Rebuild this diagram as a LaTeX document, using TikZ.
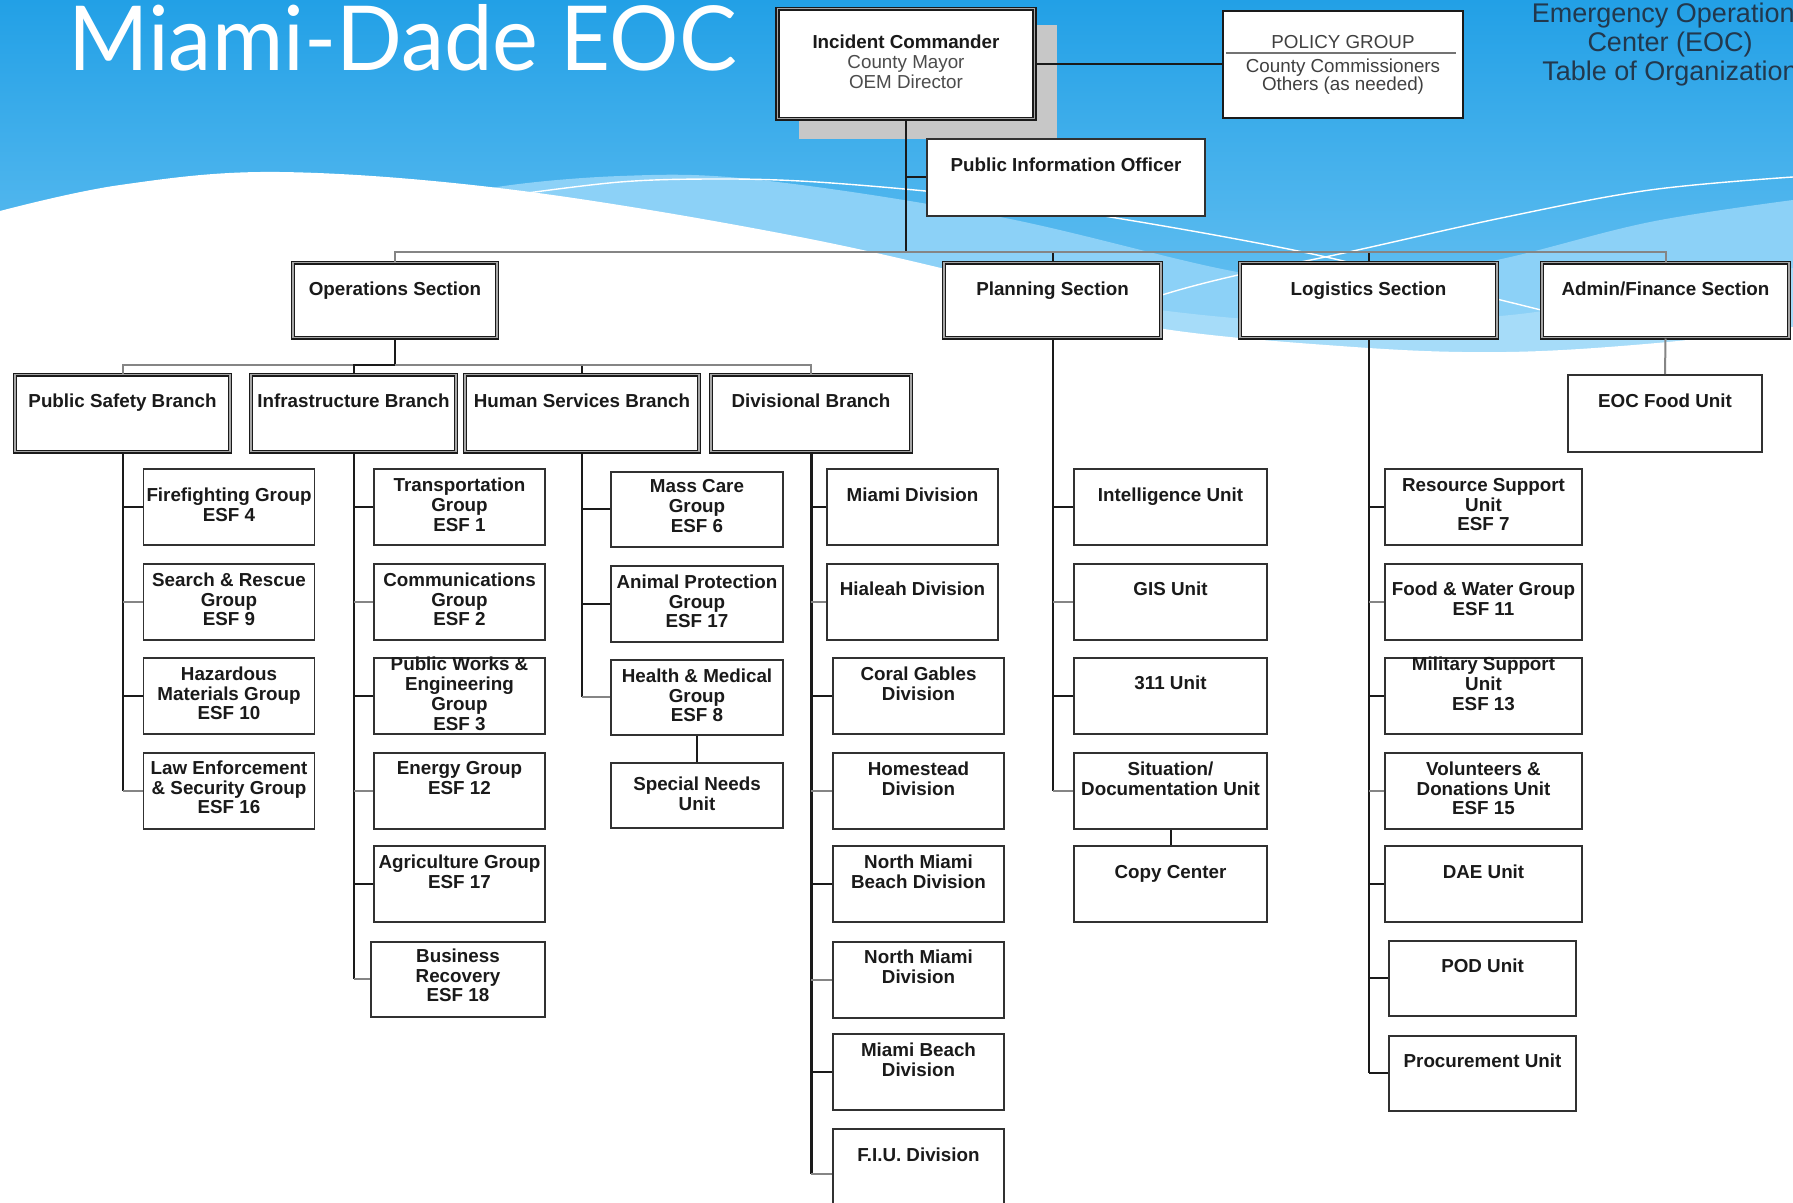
\documentclass[tikz,border=0pt]{standalone}
\usepackage{fontspec}
\usepackage{graphicx}
\setmainfont{Liberation Sans}
\newfontfamily\titlefont{Lato}
\usetikzlibrary{calc}

\definecolor{bgtop}{HTML}{22A0E6}
\definecolor{bgbot}{HTML}{7CCBF5}
\definecolor{band}{HTML}{8CD1F7}
\definecolor{bandb}{HTML}{A6DCF9}
\definecolor{ink}{HTML}{1A1A1A}
\definecolor{inkg}{HTML}{858585}
\definecolor{subt}{HTML}{22384D}

\tikzset{
  cbx/.style={draw=ink!90, line width=1.8pt, fill=white, inner sep=0pt},
  pbx/.style={draw=ink, line width=2.2pt, fill=white, inner sep=0pt},
  sbx/.style={draw=ink, line width=1.5pt, double=black!35, double distance=1.2pt, fill=white, inner sep=0pt},
  lbl/.style={inner sep=0pt, align=center, text=ink, font=\fontsize{18.8}{19.8}\selectfont\bfseries},
  lblr/.style={inner sep=0pt, align=center, text=black!75, font=\fontsize{18.8}{17}\selectfont},
  ln/.style={draw=ink, line width=2pt},
  lnt/.style={draw=ink, line width=3pt},
  lng/.style={draw=inkg, line width=2pt},
  wline/.style={draw=white, line width=1.4pt},
}

% name, style, cx, top, width, height, text offset, text
\newcommand\orgbox[8]{%
  \node[#2, minimum width=#5pt, minimum height=#6pt, anchor=north] (#1) at (#3,#4) {};
  \node[lbl, anchor=north] (#1-t) at ([yshift=-#7pt]#1.north) {#8};}

\begin{document}
\begin{tikzpicture}[x=1pt, y=-1pt]
\useasboundingbox (0,0) rectangle (1793,1202);
\clip (0,0) rectangle (1793,1202);

% ---------- background ----------
\shade[top color=bgtop, bottom color=bgbot] (0,0) rectangle (1793,420);
\fill[band] plot[smooth, tension=0.6] coordinates {(430,215) (480,190) (620,176) (760,180) (1000,217) (1243,273) (1380,282) (1506,258) (1650,222) (1793,200)} -- (1793,420) -- (430,420) -- cycle;
\fill[bandb] plot[smooth, tension=0.6] coordinates {(880,262) (1100,302) (1300,322) (1500,316) (1650,292) (1793,268)} -- (1793,420) -- (880,420) -- cycle;
\fill[white] plot[smooth, tension=0.6] coordinates {(0,211) (120,185) (280,172) (515,190) (800,237) (1029,290) (1152,327) (1354,347) (1506,352) (1657,343) (1793,327)} -- (1793,1202) -- (0,1202) -- cycle;
\draw[wline] plot[smooth, tension=0.6] coordinates {(520,194) (620,182) (709,179) (800,181) (915,190) (1000,200) (1098,215) (1220,236) (1326,257) (1440,285) (1541,310) (1620,330)};
\draw[wline] plot[smooth, tension=0.6] coordinates {(1100,318) (1162,295) (1238,275) (1344,253) (1506,217) (1650,190) (1793,177)};

% ---------- titles ----------
\node[anchor=base west, inner sep=0pt, text=white] (title) at (68,70) {\resizebox{668pt}{66pt}{\titlefont Miami-Dade EOC}};
\node[anchor=north, inner sep=0pt, align=center, text=subt, font=\fontsize{27}{29}\selectfont] (subtitle) at (1670,3) {Emergency Operations\\Center (EOC)\\Table of Organization};

% ---------- top level ----------
\fill[black!22] (799,25) rectangle (1057,139);
\node[sbx, minimum width=257pt, minimum height=110pt, anchor=north] (ic) at (906,8) {};
\node[lbl, anchor=north] (ic-t) at ([yshift=-27pt]ic.north) {Incident Commander\\{\mdseries\color{black!70}County Mayor}\\{\mdseries\color{black!70}OEM Director}};

\node[pbx, minimum width=240pt, minimum height=107pt, anchor=north] (pol) at (1343,10) {};
\node[lblr, anchor=north] (pol-t1) at ([yshift=-25.5pt]pol.north) {POLICY GROUP};
\node[lblr, anchor=north] (pol-t2) at ([yshift=-48.5pt]pol.north) {County Commissioners\\Others (as needed)};
\draw[draw=black!55, line width=2.5pt] ($(pol.north west)+(4,43)$) -- ($(pol.north east)+(-8,43)$);

\orgbox{pio}{cbx}{1066}{138}{278}{77}{20}{Public Information Officer}

% sections
\orgbox{ops}{sbx}{395}{262}{204}{75}{19.5}{Operations Section}
\orgbox{plan}{sbx}{1052.5}{262}{217}{75}{19.5}{Planning Section}
\orgbox{logi}{sbx}{1368.5}{262}{257}{75}{19.5}{Logistics Section}
\orgbox{adm}{sbx}{1665.5}{262}{247}{75}{19.5}{Admin/Finance Section}

% branches
\orgbox{psb}{sbx}{122.5}{374}{215}{77}{20}{Public Safety Branch}
\orgbox{isb}{sbx}{353.5}{374}{205}{77}{20}{Infrastructure Branch}
\orgbox{hsb}{sbx}{582}{374}{234}{77}{20}{Human Services Branch}
\orgbox{dvb}{sbx}{811}{374}{200}{77}{20}{Divisional Branch}
\orgbox{food}{cbx}{1665}{374}{194}{77}{20}{EOC Food Unit}

% public safety column
\orgbox{ff}{cbx}{229}{468}{171}{76}{20}{Firefighting Group\\ESF 4}
\orgbox{sr}{cbx}{229}{563}{171}{76}{9.5}{Search \& Rescue\\Group\\ESF 9}
\orgbox{hz}{cbx}{229}{657}{171}{76}{9.5}{Hazardous\\Materials Group\\ESF 10}
\orgbox{le}{cbx}{229}{752}{171}{76}{8.5}{Law Enforcement\\\& Security Group\\ESF 16}

% infrastructure column
\orgbox{tr}{cbx}{459.5}{468}{171}{76}{10}{Transportation\\Group\\ESF 1}
\orgbox{cm}{cbx}{459.5}{563}{171}{76}{9.5}{Communications\\Group\\ESF 2}
\orgbox{pw}{cbx}{459.5}{657}{171}{76}{0}{Public Works \&\\Engineering\\Group\\ESF 3}
\orgbox{en}{cbx}{459.5}{752}{171}{76}{9.5}{Energy Group\\ESF 12}
\orgbox{ag}{cbx}{459.5}{845}{171}{76}{10}{Agriculture Group\\ESF 17}
\orgbox{br}{cbx}{458}{941}{174}{75}{7.5}{Business\\Recovery\\ESF 18}

% human services column
\orgbox{mc}{cbx}{697}{471}{172}{75}{8.5}{Mass Care\\Group\\ESF 6}
\orgbox{ap}{cbx}{697}{565}{172}{76}{9.5}{Animal Protection\\Group\\ESF 17}
\orgbox{hm}{cbx}{697}{659}{172}{75}{9.5}{Health \& Medical\\Group\\ESF 8}
\orgbox{sn}{cbx}{697}{762}{172}{65}{14.5}{Special Needs\\Unit}

% divisional column
\orgbox{mia}{cbx}{912.5}{468}{171}{76}{20}{Miami Division}
\orgbox{hia}{cbx}{912.5}{563}{171}{76}{18.5}{Hialeah Division}
\orgbox{cg}{cbx}{918.5}{657}{171}{76}{9.5}{Coral Gables\\Division}
\orgbox{hd}{cbx}{918.5}{752}{171}{76}{9.5}{Homestead\\Division}
\orgbox{nmb}{cbx}{918.5}{845}{171}{76}{10}{North Miami\\Beach Division}
\orgbox{nm}{cbx}{918.5}{941}{171}{76}{8.5}{North Miami\\Division}
\orgbox{mb}{cbx}{918.5}{1033}{171}{76}{9.5}{Miami Beach\\Division}
\orgbox{fiu}{cbx}{918.5}{1128}{171}{90}{20}{F.I.U. Division}

% planning column
\orgbox{intel}{cbx}{1170.5}{468}{193}{76}{20}{Intelligence Unit}
\orgbox{gis}{cbx}{1170.5}{563}{193}{76}{18.5}{GIS Unit}
\orgbox{uxi}{cbx}{1170.5}{657}{193}{76}{19}{311 Unit}
\orgbox{sit}{cbx}{1170.5}{752}{193}{76}{9.5}{Situation/\\Documentation Unit}
\orgbox{copy}{cbx}{1170.5}{845}{193}{76}{20}{Copy Center}

% logistics column
\orgbox{rs}{cbx}{1483.5}{468}{197}{76}{10}{Resource Support\\Unit\\ESF 7}
\orgbox{fw}{cbx}{1483.5}{563}{197}{76}{18.5}{Food \& Water Group\\ESF 11}
\orgbox{ms}{cbx}{1483.5}{657}{197}{76}{0}{Military Support\\Unit\\ESF 13}
\orgbox{vd}{cbx}{1483.5}{752}{197}{76}{9.5}{Volunteers \&\\Donations Unit\\ESF 15}
\orgbox{dae}{cbx}{1483.5}{845}{197}{76}{20}{DAE Unit}
\orgbox{pod}{cbx}{1482.5}{940}{187}{75}{18.5}{POD Unit}
\orgbox{proc}{cbx}{1482.5}{1035}{187}{75}{18.5}{Procurement Unit}

% ---------- connectors ----------
\coordinate (bar) at (906,252);
\draw[ln] (ic.south) -- (bar);
\draw[ln] (pio.west) -- (pio.west -| ic.south);
\draw[ln] (ic.east) -- (ic.east -| pol.west);
\draw[lng] (ops.north) |- (bar);
\draw[ln] (plan.north) |- (bar);
\draw[ln] (logi.north) |- (bar);
\draw[lng] (adm.north) |- (bar);

\coordinate (obar) at (395,365);
\draw[ln] (ops.south) -- (obar);
\draw[lng] (psb.north) |- (obar);
\draw[ln] (isb.north) |- (obar);
\draw[ln] (hsb.north) |- (obar);
\draw[lng] (dvb.north) |- (obar);

% public safety
\draw[ln] (psb.south) -- (psb.south |- le.west);
\draw[ln] (ff.west) -- (ff.west -| psb.south);
\draw[lng] (sr.west) -- (sr.west -| psb.south);
\draw[ln] (hz.west) -- (hz.west -| psb.south);
\draw[lng] (le.west) -- (le.west -| psb.south);

% infrastructure
\draw[ln] (isb.south) -- (isb.south |- br.west);
\draw[ln] (tr.west) -- (tr.west -| isb.south);
\draw[lng] (cm.west) -- (cm.west -| isb.south);
\draw[ln] (pw.west) -- (pw.west -| isb.south);
\draw[lng] (en.west) -- (en.west -| isb.south);
\draw[ln] (ag.west) -- (ag.west -| isb.south);
\draw[lng] (br.west) -- (br.west -| isb.south);

% human services
\draw[ln] (hsb.south) -- (hsb.south |- hm.west);
\draw[ln] (mc.west) -- (mc.west -| hsb.south);
\draw[ln] (ap.west) -- (ap.west -| hsb.south);
\draw[lng] (hm.west) -- (hm.west -| hsb.south);
\draw[ln] (hm.south) -- (sn.north);

% divisional
\draw[lnt] (dvb.south) -- (dvb.south |- fiu.west);
\draw[ln] (mia.west) -- (mia.west -| dvb.south);
\draw[lng] (hia.west) -- (hia.west -| dvb.south);
\draw[ln] (cg.west) -- (cg.west -| dvb.south);
\draw[lng] (hd.west) -- (hd.west -| dvb.south);
\draw[ln] (nmb.west) -- (nmb.west -| dvb.south);
\draw[lng] (nm.west) -- (nm.west -| dvb.south);
\draw[ln] (mb.west) -- (mb.west -| dvb.south);
\draw[lng] (fiu.west) -- (fiu.west -| dvb.south);

% planning
\draw[ln] (plan.south) -- (plan.south |- sit.west);
\draw[ln] (intel.west) -- (intel.west -| plan.south);
\draw[lng] (gis.west) -- (gis.west -| plan.south);
\draw[ln] (uxi.west) -- (uxi.west -| plan.south);
\draw[lng] (sit.west) -- (sit.west -| plan.south);
\draw[ln] (sit.south) -- (copy.north);

% logistics
\draw[ln] (logi.south) -- (logi.south |- proc.west);
\draw[ln] (rs.west) -- (rs.west -| logi.south);
\draw[lng] (fw.west) -- (fw.west -| logi.south);
\draw[ln] (ms.west) -- (ms.west -| logi.south);
\draw[lng] (vd.west) -- (vd.west -| logi.south);
\draw[ln] (dae.west) -- (dae.west -| logi.south);
\draw[ln] (pod.west) -- (pod.west -| logi.south);
\draw[ln] (proc.west) -- (proc.west -| logi.south);

% admin
\draw[lng] (adm.south) -- (food.north);
\end{tikzpicture}
\end{document}
